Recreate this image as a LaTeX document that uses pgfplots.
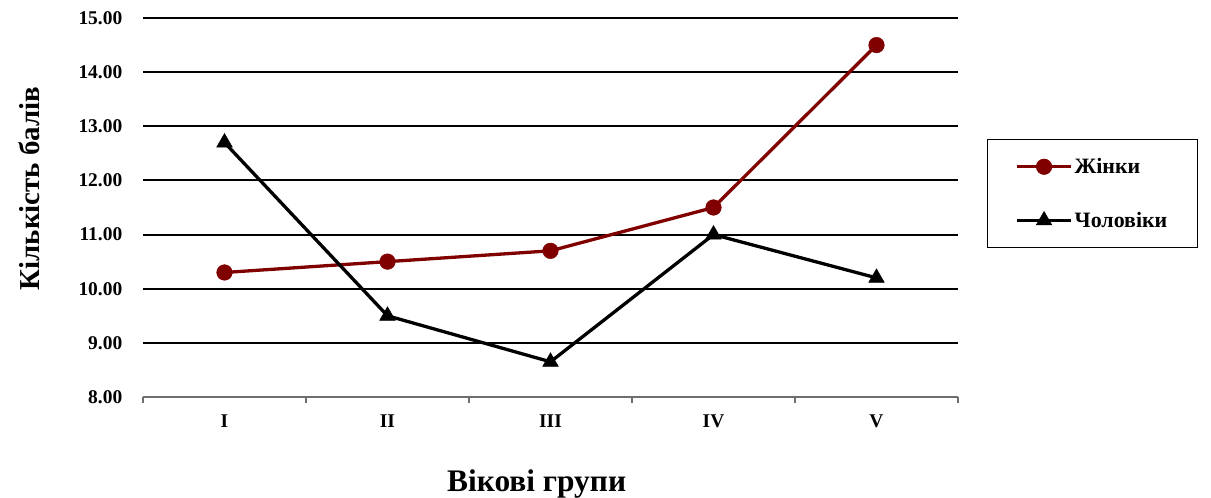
\documentclass[border=0pt]{standalone}
\usepackage{pgfplots}
\pgfplotsset{compat=1.18}
\usepackage{fontspec}
\setmainfont{Liberation Serif}
\definecolor{wred}{RGB}{128,0,0}
\definecolor{axgray}{RGB}{110,110,110}
\begin{document}
\begin{tikzpicture}
\path[use as bounding box] (0bp,0bp) rectangle (1211bp,498bp);
\begin{axis}[
  at={(143bp,101bp)}, anchor=south west,
  scale only axis, width=815bp, height=379bp,
  xmin=0.5, xmax=5.5, ymin=8, ymax=15,
  xtick={1,2,3,4,5},
  xticklabels={I,II,III,IV,V},
  minor xtick={0.5,1.5,2.5,3.5,4.5,5.5},
  major x tick style={draw=none},
  minor x tick style={axgray, line width=1.2bp},
  minor tick length=6bp,
  xtick pos=bottom,
  tick align=outside,
  ytick={9,...,15},
  extra y ticks={8},
  extra y tick style={grid=none},
  ymajorgrids,
  major grid style={black, line width=2bp},
  y tick style={draw=none},
  axis x line*=bottom,
  axis y line*=left,
  y axis line style={draw=none},
  x axis line style={axgray, line width=1.2bp, -},
  /pgf/number format/assume math mode=true,
  yticklabel={\pgfmathprintnumber[fixed,fixed zerofill,precision=2]{\tick}},
  tick label style={font=\bfseries\fontsize{19.5}{22}\selectfont, text=black},
  yticklabel style={xshift=-13bp},
  xticklabel style={yshift=-10bp},
  legend style={at={(1.0356,0.6807)}, anchor=north west, draw=black, line width=0.8bp,
    font=\bfseries\fontsize{22}{24}\selectfont, inner xsep=28bp, inner ysep=17bp, row sep=33bp},
  legend cell align=left,
  legend image code/.code={\draw[mark repeat=2,mark phase=2,#1] plot coordinates {(0bp,0bp) (27bp,0bp) (54bp,0bp)};},
  clip=false,
]
\addplot[wred, line width=3.3bp, mark=*, mark size=7.8bp, mark options={solid, fill=wred, draw=wred, line width=0.5bp}]
  coordinates {(1,10.3) (2,10.5) (3,10.7) (4,11.5) (5,14.5)};
\addlegendentry{Жінки}
\addplot[black, line width=3.3bp, mark=triangle*, mark size=9bp, mark options={solid, fill=black, line width=0.5bp}]
  coordinates {(1,12.7) (2,9.5) (3,8.65) (4,11.0) (5,10.2)};
\addlegendentry{Чоловіки}
\node[font=\bfseries\fontsize{31.5}{34}\selectfont, anchor=base] at ([yshift=-94bp]axis description cs:0.483,0) {Вікові групи};
\node[font=\bfseries\fontsize{29}{32}\selectfont, rotate=90, anchor=center] at ([xshift=-114bp]axis description cs:0,0.55) {Кількість балів};
\end{axis}
\end{tikzpicture}
\end{document}
